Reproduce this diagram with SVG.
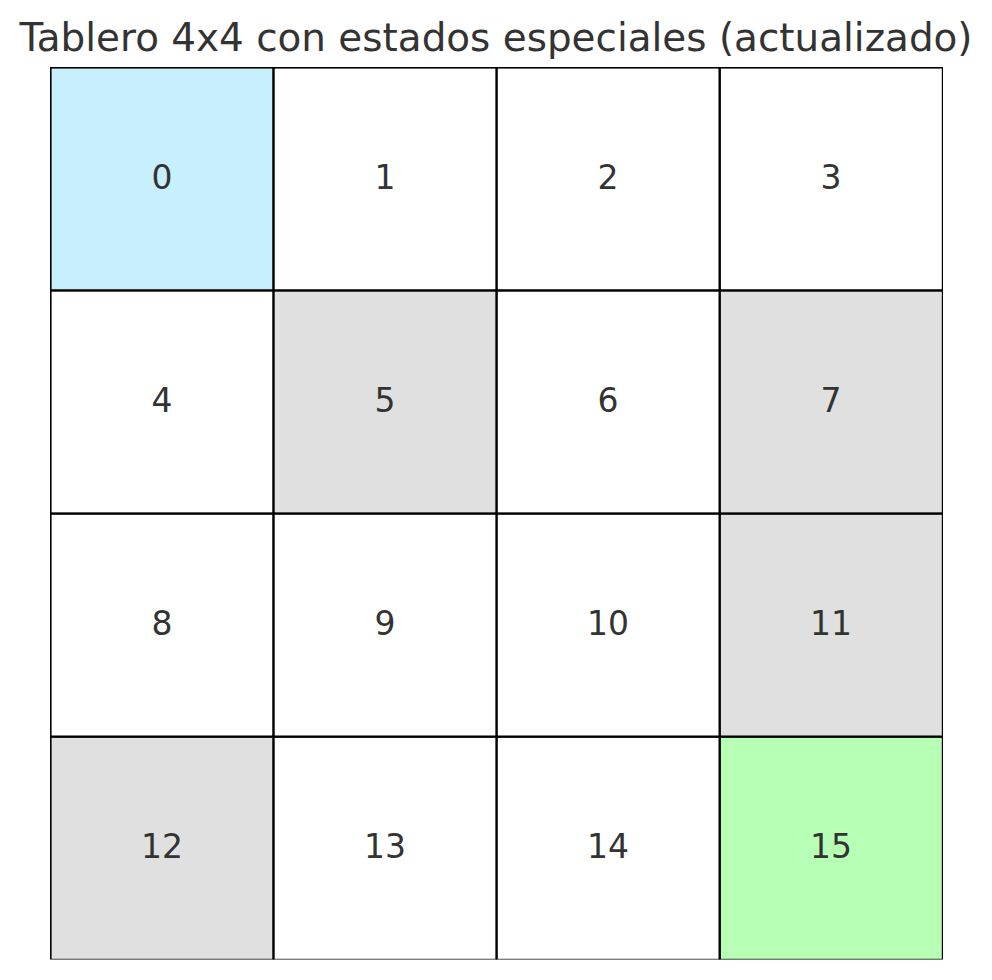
<svg xmlns="http://www.w3.org/2000/svg" width="992" height="980" viewBox="0 0 992 980">
<style>
.c{stroke:#000;stroke-width:2.2}
.t{font-family:"DejaVu Sans",sans-serif;font-size:33px;fill:#333;text-anchor:middle;dominant-baseline:central}
.title{font-family:"DejaVu Sans",sans-serif;font-size:38.9px;fill:#333;text-anchor:middle}
</style>
<rect width="992" height="980" fill="#fff"/>
<text class="title" x="496" y="51">Tablero 4x4 con estados especiales (actualizado)</text>
<defs><clipPath id="cp"><rect x="50" y="67" width="893" height="892.5"/></clipPath></defs>
<g clip-path="url(#cp)">
<g id="cell0"><rect class="c" x="50.5" y="67.5" width="223.1" height="223.1" fill="#c7effe"/><text class="t" x="162" y="177">0</text></g>
<g id="cell1"><rect class="c" x="273.6" y="67.5" width="223.1" height="223.1" fill="#fff"/><text class="t" x="385" y="177">1</text></g>
<g id="cell2"><rect class="c" x="496.7" y="67.5" width="223.1" height="223.1" fill="#fff"/><text class="t" x="608" y="177">2</text></g>
<g id="cell3"><rect class="c" x="719.8" y="67.5" width="223.1" height="223.1" fill="#fff"/><text class="t" x="831" y="177">3</text></g>
<g id="cell4"><rect class="c" x="50.5" y="290.6" width="223.1" height="223.1" fill="#fff"/><text class="t" x="162" y="400">4</text></g>
<g id="cell5"><rect class="c" x="273.6" y="290.6" width="223.1" height="223.1" fill="#e0e0e0"/><text class="t" x="385" y="400">5</text></g>
<g id="cell6"><rect class="c" x="496.7" y="290.6" width="223.1" height="223.1" fill="#fff"/><text class="t" x="608" y="400">6</text></g>
<g id="cell7"><rect class="c" x="719.8" y="290.6" width="223.1" height="223.1" fill="#e0e0e0"/><text class="t" x="831" y="400">7</text></g>
<g id="cell8"><rect class="c" x="50.5" y="513.7" width="223.1" height="223.1" fill="#fff"/><text class="t" x="162" y="623">8</text></g>
<g id="cell9"><rect class="c" x="273.6" y="513.7" width="223.1" height="223.1" fill="#fff"/><text class="t" x="385" y="623">9</text></g>
<g id="cell10"><rect class="c" x="496.7" y="513.7" width="223.1" height="223.1" fill="#fff"/><text class="t" x="608" y="623">10</text></g>
<g id="cell11"><rect class="c" x="719.8" y="513.7" width="223.1" height="223.1" fill="#e0e0e0"/><text class="t" x="831" y="623">11</text></g>
<g id="cell12"><rect class="c" x="50.5" y="736.8" width="223.1" height="223.1" fill="#e0e0e0"/><text class="t" x="162" y="846">12</text></g>
<g id="cell13"><rect class="c" x="273.6" y="736.8" width="223.1" height="223.1" fill="#fff"/><text class="t" x="385" y="846">13</text></g>
<g id="cell14"><rect class="c" x="496.7" y="736.8" width="223.1" height="223.1" fill="#fff"/><text class="t" x="608" y="846">14</text></g>
<g id="cell15"><rect class="c" x="719.8" y="736.8" width="223.1" height="223.1" fill="#b8ffb6"/><text class="t" x="831" y="846">15</text></g>
</g>
<g id="connectors"></g>
</svg>
